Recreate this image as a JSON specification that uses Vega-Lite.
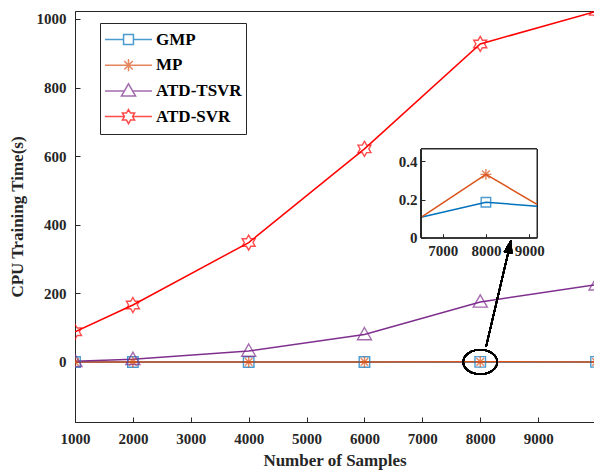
{
  "$schema": "https://vega.github.io/schema/vega-lite/v6.json",
  "autosize": {"type": "none"},
  "padding": {"left": 75, "top": 11, "right": 0, "bottom": 54},
  "width": 519,
  "height": 411,
  "background": "white",
  "config": {
    "view": {"stroke": "#262626", "strokeWidth": 1},
    "font": "Liberation Serif",
    "axis": {
      "labelFont": "Liberation Serif",
      "labelFontWeight": "bold",
      "labelFontSize": 15,
      "labelColor": "#262626",
      "titleFont": "Liberation Serif",
      "titleFontWeight": "bold",
      "titleFontSize": 17,
      "titleColor": "#262626",
      "domainColor": "#262626",
      "tickColor": "#262626",
      "grid": false,
      "labelFlush": false
    }
  },
  "datasets": {
    "main": [
      {"series": "GMP", "samples": 1000, "time": 0.01},
      {"series": "GMP", "samples": 2000, "time": 0.02},
      {"series": "GMP", "samples": 4000, "time": 0.04},
      {"series": "GMP", "samples": 6000, "time": 0.08},
      {"series": "GMP", "samples": 8000, "time": 0.186},
      {"series": "GMP", "samples": 10000, "time": 0.15},
      {"series": "MP", "samples": 1000, "time": 0.01},
      {"series": "MP", "samples": 2000, "time": 0.02},
      {"series": "MP", "samples": 4000, "time": 0.05},
      {"series": "MP", "samples": 6000, "time": 0.03},
      {"series": "MP", "samples": 8000, "time": 0.332},
      {"series": "MP", "samples": 10000, "time": 0.07},
      {"series": "ATD-TSVR", "samples": 1000, "time": 2},
      {"series": "ATD-TSVR", "samples": 2000, "time": 8},
      {"series": "ATD-TSVR", "samples": 4000, "time": 32},
      {"series": "ATD-TSVR", "samples": 6000, "time": 80},
      {"series": "ATD-TSVR", "samples": 8000, "time": 175},
      {"series": "ATD-TSVR", "samples": 10000, "time": 225},
      {"series": "ATD-SVR", "samples": 1000, "time": 88},
      {"series": "ATD-SVR", "samples": 2000, "time": 166},
      {"series": "ATD-SVR", "samples": 4000, "time": 348},
      {"series": "ATD-SVR", "samples": 6000, "time": 621},
      {"series": "ATD-SVR", "samples": 8000, "time": 927},
      {"series": "ATD-SVR", "samples": 10000, "time": 1022}
    ],
    "inset": [
      {"series": "GMP", "samples": 6500, "time": 0.107},
      {"series": "GMP", "samples": 8000, "time": 0.186},
      {"series": "GMP", "samples": 9180, "time": 0.165},
      {"series": "MP", "samples": 6500, "time": 0.107},
      {"series": "MP", "samples": 8000, "time": 0.332},
      {"series": "MP", "samples": 9180, "time": 0.175}
    ]
  },
  "layer": [
    {
      "data": {"name": "main"},
      "layer": [
        {
          "mark": {"type": "line", "strokeWidth": 1.5, "clip": true},
          "encoding": {
            "x": {"field": "samples", "type": "quantitative", "title": "Number of Samples",
                  "scale": {"domain": [1000, 9965], "nice": false, "zero": false},
                  "axis": {"values": [1000, 2000, 3000, 4000, 5000, 6000, 7000, 8000, 9000], "tickSize": -5, "labelPadding": 14, "titlePadding": 6, "format": "d", "labelFlush": false}},
            "y": {"field": "time", "type": "quantitative", "title": "CPU Training Time(s)",
                  "scale": {"domain": [-175, 1023], "nice": false, "zero": false},
                  "axis": {"values": [0, 200, 400, 600, 800, 1000], "tickSize": -5, "labelPadding": 14, "titlePadding": 10, "format": "d", "labelFlush": false}},
            "color": {"field": "series", "type": "nominal",
                      "scale": {"domain": ["GMP", "MP", "ATD-TSVR", "ATD-SVR"], "range": ["#0072BD", "#D95319", "#7E2F8E", "#FF0000"]},
                      "legend": {"orient": "none", "legendX": 25, "legendY": 12, "title": null,
                                 "symbolSize": 2209, "clipHeight": 25, "rowPadding": 0.7, "labelOffset": 3, "symbolOffset": 0,
                                 "padding": 4, "strokeColor": "#262626", "fillColor": "white",
                                 "labelFont": "Liberation Serif", "labelFontWeight": "bold", "labelFontSize": 17, "labelColor": "black",
                                 "symbolStrokeWidth": 1.5, "symbolFillColor": "transparent"}},
            "order": {"field": "samples"}
          }
        },
        {
          "transform": [{"filter": "datum.series === 'GMP'"}],
          "mark": {"type": "point", "shape": "M-1,-1H1V1H-1Z", "size": 110, "filled": false, "strokeWidth": 1.4, "clip": true},
          "encoding": {
            "x": {"field": "samples", "type": "quantitative"},
            "y": {"field": "time", "type": "quantitative"},
            "color": {"field": "series", "type": "nominal"}
          }
        },
        {
          "transform": [{"filter": "datum.series === 'MP'"}],
          "mark": {"type": "point", "shape": "M-1,0H1M0,-1V1M-0.7,-0.7L0.7,0.7M-0.7,0.7L0.7,-0.7", "size": 120, "filled": false, "strokeWidth": 1.4, "clip": true},
          "encoding": {
            "x": {"field": "samples", "type": "quantitative"},
            "y": {"field": "time", "type": "quantitative"},
            "color": {"field": "series", "type": "nominal"}
          }
        },
        {
          "transform": [{"filter": "datum.series === 'ATD-TSVR'"}],
          "mark": {"type": "point", "shape": "M0,-1L1,0.75L-1,0.75Z", "size": 196, "filled": false, "strokeWidth": 1.4, "clip": true},
          "encoding": {
            "x": {"field": "samples", "type": "quantitative"},
            "y": {"field": "time", "type": "quantitative"},
            "color": {"field": "series", "type": "nominal"}
          }
        },
        {
          "transform": [{"filter": "datum.series === 'ATD-SVR'"}],
          "mark": {"type": "point", "shape": "M0,-1L0.289,-0.5L0.866,-0.5L0.577,0L0.866,0.5L0.289,0.5L0,1L-0.289,0.5L-0.866,0.5L-0.577,0L-0.866,-0.5L-0.289,-0.5Z", "size": 225, "filled": false, "strokeWidth": 1.4, "clip": true},
          "encoding": {
            "x": {"field": "samples", "type": "quantitative"},
            "y": {"field": "time", "type": "quantitative"},
            "color": {"field": "series", "type": "nominal"}
          }
        },
        {
          "mark": {"type": "point", "shape": "M-1,0A1,0.72 0 1,0 1,0A1,0.72 0 1,0 -1,0", "size": 1156, "filled": false, "stroke": "black", "strokeWidth": 1.5},
          "encoding": {
            "x": {"datum": 8000, "type": "quantitative"},
            "y": {"datum": 0, "type": "quantitative"}
          }
        },
        {
          "mark": {"type": "rule", "stroke": "black", "strokeWidth": 1.5},
          "encoding": {
            "x": {"datum": 8100, "type": "quantitative"},
            "y": {"datum": 44, "type": "quantitative"},
            "x2": {"datum": 8520},
            "y2": {"datum": 345}
          }
        },
        {
          "mark": {"type": "point", "shape": "M0,-1L0.6,1L-0.6,1Z", "size": 169, "filled": true, "fill": "black", "stroke": "black", "strokeWidth": 0.5, "angle": 13.3, "opacity": 1},
          "encoding": {
            "x": {"datum": 8506, "type": "quantitative"},
            "y": {"datum": 337, "type": "quantitative"}
          }
        },
        {
          "mark": {"type": "point", "filled": false, "strokeWidth": 1.5, "clip": true},
          "encoding": {
            "x": {"field": "samples", "type": "quantitative"},
            "y": {"datum": -100000, "type": "quantitative"},
            "color": {"field": "series", "type": "nominal"},
            "shape": {"field": "series", "type": "nominal",
                      "scale": {"domain": ["GMP", "MP", "ATD-TSVR", "ATD-SVR"],
                                "range": [
                                  "M-1,0H-0.21M0.21,0H1M-0.21,-0.21H0.21V0.21H-0.21Z",
                                  "M-1,0H1M0,-0.26V0.26M-0.18,-0.18L0.18,0.18M-0.18,0.18L0.18,-0.18",
                                  "M-1,0H-0.17M0.17,0H1M0,-0.3L0.3,0.22L-0.3,0.22Z",
                                  "M-1,0H-0.17M0.17,0H1M0,-0.3L0.087,-0.15L0.26,-0.15L0.173,0L0.26,0.15L0.087,0.15L0,0.3L-0.087,0.15L-0.26,0.15L-0.173,0L-0.26,-0.15L-0.087,-0.15Z"
                                ]}}
          }
        }
      ]
    },
    {
      "data": {"name": "inset"},
      "layer": [
        {
          "mark": {"type": "rect", "fill": "white", "stroke": "#262626", "strokeWidth": 1},
          "encoding": {
            "x": {"datum": 6500, "type": "quantitative"},
            "x2": {"datum": 9180},
            "y": {"datum": 0, "type": "quantitative"},
            "y2": {"datum": 0.465}
          }
        },
        {
          "mark": {"type": "line", "strokeWidth": 1.5},
          "encoding": {
            "x": {"field": "samples", "type": "quantitative", "title": null,
                  "scale": {"domain": [6500, 9180], "range": [346, 462], "nice": false, "zero": false},
                  "axis": {"orient": "bottom", "offset": -184.3, "values": [7000, 8000, 9000], "tickSize": -4, "labelPadding": 10, "format": "d", "zindex": 1}},
            "y": {"field": "time", "type": "quantitative", "title": null,
                  "scale": {"domain": [0, 0.465], "range": [226.7, 138], "nice": false, "zero": false},
                  "axis": {"orient": "left", "offset": -346, "values": [0, 0.2, 0.4], "tickSize": -4, "labelPadding": 8, "format": "~g", "zindex": 1}},
            "color": {"field": "series", "type": "nominal"},
            "order": {"field": "samples"}
          }
        },
        {
          "transform": [{"filter": "datum.series === 'GMP' && datum.samples === 8000"}],
          "mark": {"type": "point", "shape": "M-1,-1H1V1H-1Z", "size": 90, "filled": false, "strokeWidth": 1.4},
          "encoding": {
            "x": {"field": "samples", "type": "quantitative"},
            "y": {"field": "time", "type": "quantitative"},
            "color": {"field": "series", "type": "nominal"}
          }
        },
        {
          "transform": [{"filter": "datum.series === 'MP' && datum.samples === 8000"}],
          "mark": {"type": "point", "shape": "M-1,0H1M0,-1V1M-0.7,-0.7L0.7,0.7M-0.7,0.7L0.7,-0.7", "size": 120, "filled": false, "strokeWidth": 1.4},
          "encoding": {
            "x": {"field": "samples", "type": "quantitative"},
            "y": {"field": "time", "type": "quantitative"},
            "color": {"field": "series", "type": "nominal"}
          }
        }
      ]
    }
  ],
  "resolve": {"scale": {"x": "independent", "y": "independent"}}
}
